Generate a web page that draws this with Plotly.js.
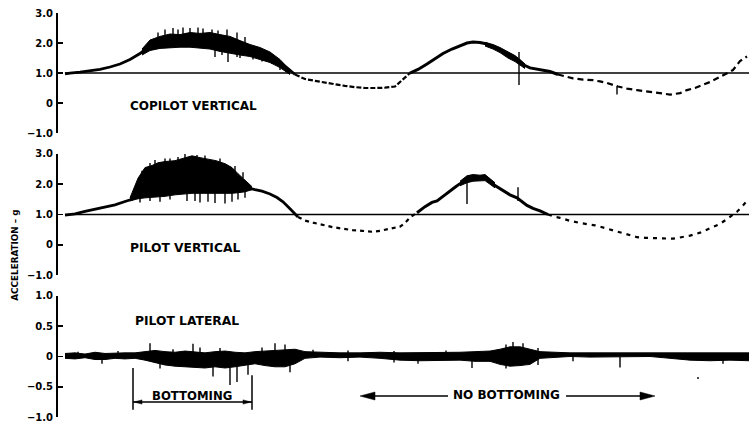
<!DOCTYPE html>
<html>
<head>
<meta charset="utf-8">
<script src="https://cdn.plot.ly/plotly-3.0.1.min.js"></script>
<style>
  html, body { margin: 0; padding: 0; background: #fff; }
  #chart { width: 749px; height: 424px; }
</style>
</head>
<body>
<div id="chart"></div>
<script>
// ---- Copilot vertical acceleration (g) ----
const cpRiseT = [0.7, 1.2, 2.2, 3.2, 4.2, 5.2, 6.2, 7.2, 8.2, 9.2, 10.2, 11.2, 12.2, 13.2, 14.2, 15.2, 16.2, 17.2, 18.2, 19.2, 20.2, 21.2, 22.2, 23.0, 23.7];
const cpRiseG = [0.97, 1.0, 1.03, 1.07, 1.12, 1.2, 1.3, 1.45, 1.65, 1.92, 2.0, 2.06, 2.1, 2.12, 2.12, 2.1, 2.05, 1.98, 1.9, 1.8, 1.68, 1.55, 1.35, 1.15, 0.95];
const cpDip1T = [23.7, 24.7, 25.7, 26.7, 27.7, 28.7, 29.7, 30.7, 31.7, 32.7, 33.7, 34.2, 34.7, 35.2];
const cpDip1G = [0.95, 0.8, 0.74, 0.68, 0.63, 0.57, 0.53, 0.5, 0.5, 0.51, 0.55, 0.7, 0.85, 1.0];
const cpHump2T = [35.2, 36.0, 36.9, 37.7, 38.5, 39.4, 40.2, 40.9, 41.5, 42.2, 42.9, 43.5, 44.2, 45.2, 45.7, 46.2, 46.7, 47.2, 47.9, 48.5, 49.2, 50.0];
const cpHump2G = [1.0, 1.12, 1.3, 1.48, 1.65, 1.8, 1.92, 2.0, 2.03, 2.02, 1.97, 1.88, 1.78, 1.6, 1.48, 1.37, 1.25, 1.17, 1.12, 1.1, 1.05, 0.95];
const cpDip2T = [50.0, 50.7, 51.5, 52.5, 53.5, 54.2, 54.9, 56.0, 56.9, 57.9, 58.7, 59.5, 60.4, 61.2, 62.2, 62.9, 63.7, 64.2, 65.2, 66.2, 66.9, 67.5, 68.2, 68.9];
const cpDip2G = [0.95, 0.88, 0.82, 0.78, 0.76, 0.72, 0.67, 0.55, 0.48, 0.43, 0.4, 0.37, 0.32, 0.28, 0.33, 0.43, 0.5, 0.57, 0.7, 0.87, 1.0, 1.1, 1.4, 1.55];
// vibration envelope during bottoming
const cpBandT  = [8.4, 9.2, 10.2, 11.2, 12.2, 13.2, 14.2, 15.2, 16.2, 17.2, 18.2, 19.2, 20.2, 21.2, 22.2, 23.2];
const cpBandHi = [1.8, 2.1, 2.22, 2.3, 2.28, 2.35, 2.32, 2.35, 2.28, 2.22, 2.08, 1.95, 1.85, 1.7, 1.45, 1.1];
const cpBandLo = [1.6, 1.75, 1.82, 1.85, 1.86, 1.86, 1.84, 1.8, 1.72, 1.65, 1.6, 1.55, 1.45, 1.35, 1.18, 0.95];
const cpBand2T  = [42.7, 43.5, 44.2, 45.0, 45.7, 46.2, 46.7];
const cpBand2Hi = [2.02, 1.95, 1.85, 1.7, 1.58, 1.45, 1.3];
const cpBand2Lo = [1.9, 1.8, 1.68, 1.5, 1.38, 1.25, 1.15];
const cpSpikeT  = [10.0, 10.7, 11.5, 12.0, 12.5, 13.2, 14.0, 14.5, 15.4, 16.0, 16.9, 17.9, 18.7,
                   15.7, 16.4, 17.0, 17.9, 18.2, 18.9, 19.5, 19.9, 20.4, 20.9, 21.4, 21.7, 22.2, 46.1, 55.9];
const cpSpikeHi = [2.35, 2.45, 2.5, 2.45, 2.52, 2.5, 2.52, 2.48, 2.45, 2.42, 2.45, 2.35, 2.2,
                   1.9, 1.9, 1.85, 1.8, 1.75, 1.75, 1.7, 1.65, 1.6, 1.55, 1.5, 1.45, 1.4, 1.7, 0.55];
const cpSpikeLo = [2.1, 2.1, 2.1, 2.1, 2.1, 2.1, 2.1, 2.1, 2.1, 2.05, 2.0, 1.95, 1.9,
                   1.53, 1.6, 1.37, 1.53, 1.5, 1.58, 1.45, 1.5, 1.38, 1.42, 1.3, 1.3, 1.1, 0.6, 0.28];

// ---- Pilot vertical acceleration (g) ----
const pvRiseT = [0.7, 1.7, 2.7, 3.7, 4.7, 5.7, 6.7, 7.4, 8.2, 9.2, 10.2, 11.2, 12.2, 13.2, 14.2, 15.2, 16.2, 17.2, 18.2, 18.9, 19.7, 20.4, 21.2, 21.9, 22.5, 23.2, 23.7, 24.0];
const pvRiseG = [0.98, 1.02, 1.1, 1.18, 1.24, 1.32, 1.43, 1.5, 1.8, 2.0, 2.1, 2.15, 2.2, 2.22, 2.2, 2.15, 2.1, 2.02, 1.95, 1.89, 1.82, 1.77, 1.68, 1.56, 1.42, 1.19, 1.02, 0.92];
const pvDip1T = [24.0, 24.7, 25.5, 26.5, 27.5, 28.5, 29.5, 30.4, 31.4, 32.2, 33.2, 34.2, 34.7, 35.2, 35.9];
const pvDip1G = [0.92, 0.8, 0.73, 0.65, 0.58, 0.53, 0.48, 0.46, 0.43, 0.46, 0.52, 0.6, 0.72, 0.9, 1.06];
const pvHump2T = [35.9, 36.7, 37.4, 37.9, 38.5, 39.2, 39.7, 40.2, 40.9, 41.5, 42.2, 42.7, 43.5, 44.2, 45.2, 45.9, 46.9, 47.5, 48.2, 49.0];
const pvHump2G = [1.06, 1.26, 1.4, 1.45, 1.6, 1.79, 1.9, 2.02, 2.15, 2.2, 2.22, 2.25, 2.0, 1.85, 1.65, 1.55, 1.3, 1.2, 1.12, 1.0];
const pvDip2T = [49.0, 49.7, 50.2, 51.2, 52.2, 52.9, 53.7, 54.2, 55.2, 56.2, 57.2, 57.9, 58.7, 59.5, 60.5, 61.5, 62.4, 63.2, 64.2, 64.9, 65.7, 66.2, 66.9, 67.5, 67.9, 68.5, 68.9];
const pvDip2G = [1.0, 0.92, 0.89, 0.79, 0.72, 0.69, 0.64, 0.6, 0.5, 0.4, 0.3, 0.25, 0.23, 0.23, 0.21, 0.2, 0.25, 0.3, 0.4, 0.5, 0.6, 0.69, 0.85, 1.0, 1.09, 1.3, 1.45];
const pvBandT  = [7.2, 8.0, 8.7, 9.4, 10.0, 10.7, 11.7, 12.5, 13.4, 14.2, 15.0, 15.8, 16.7, 17.4, 18.0, 18.7, 19.4];
const pvBandHi = [1.55, 2.2, 2.55, 2.62, 2.71, 2.75, 2.78, 2.85, 2.94, 2.88, 2.84, 2.78, 2.68, 2.55, 2.35, 2.15, 1.92];
const pvBandLo = [1.45, 1.52, 1.55, 1.56, 1.58, 1.6, 1.65, 1.68, 1.7, 1.7, 1.7, 1.68, 1.68, 1.7, 1.72, 1.75, 1.82];
const pvBand2T  = [40.2, 40.9, 41.5, 42.2, 42.7, 43.2, 43.7];
const pvBand2Hi = [2.1, 2.28, 2.32, 2.3, 2.32, 2.2, 2.05];
const pvBand2Lo = [1.95, 2.05, 2.1, 2.1, 2.12, 2.0, 1.88];
const pvSpikeT  = [8.4, 9.2, 9.7, 10.7, 11.2, 12.0, 12.7, 13.9, 14.7, 16.2, 17.7, 18.5,
                   8.2, 9.2, 10.2, 11.2, 12.9, 13.7, 14.2, 15.0, 15.7, 16.7, 17.4, 18.0, 18.7, 40.9, 46.0];
const pvSpikeHi = [2.45, 2.7, 2.8, 2.85, 2.85, 2.9, 3.0, 2.97, 2.95, 2.85, 2.6, 2.4,
                   1.7, 1.7, 1.7, 1.75, 1.8, 1.8, 1.8, 1.8, 1.8, 1.8, 1.8, 1.82, 1.85, 2.15, 1.9];
const pvSpikeLo = [2.1, 2.4, 2.5, 2.6, 2.6, 2.7, 2.7, 2.7, 2.7, 2.6, 2.4, 2.2,
                   1.4, 1.45, 1.42, 1.5, 1.45, 1.45, 1.4, 1.42, 1.38, 1.36, 1.42, 1.5, 1.55, 1.35, 1.45];

// ---- Pilot lateral acceleration (g) ----
const plT  = [0.7, 1.7, 2.7, 3.7, 4.7, 5.7, 6.7, 7.7, 8.7, 9.7, 10.7, 11.7, 12.7, 13.7, 14.7, 15.7, 16.7, 17.7, 18.7, 19.7, 20.7, 21.7, 22.7, 23.7, 24.7, 26.2, 28.2, 30.2, 32.2, 34.2, 36.2, 38.2, 40.2, 41.7, 43.2, 44.2, 45.2, 46.2, 47.2, 48.2, 49.7, 51.2, 53.2, 55.2, 57.2, 59.2, 61.2, 63.2, 65.2, 67.2, 69.1];
const plHi = [0.05, 0.06, 0.04, 0.07, 0.05, 0.06, 0.06, 0.06, 0.08, 0.1, 0.08, 0.07, 0.09, 0.08, 0.06, 0.08, 0.09, 0.07, 0.06, 0.08, 0.09, 0.1, 0.12, 0.12, 0.08, 0.07, 0.06, 0.06, 0.07, 0.06, 0.06, 0.06, 0.07, 0.08, 0.09, 0.12, 0.16, 0.16, 0.12, 0.08, 0.07, 0.06, 0.06, 0.06, 0.05, 0.06, 0.05, 0.06, 0.05, 0.06, 0.06];
const plLo = [-0.03, -0.04, -0.02, -0.05, -0.05, -0.03, -0.04, -0.03, -0.06, -0.1, -0.14, -0.16, -0.17, -0.19, -0.19, -0.17, -0.19, -0.17, -0.14, -0.12, -0.15, -0.17, -0.17, -0.12, -0.03, -0.01, -0.02, -0.01, -0.03, -0.06, -0.07, -0.07, -0.06, -0.08, -0.08, -0.13, -0.16, -0.15, -0.13, -0.03, -0.01, 0.0, -0.01, -0.01, 0.0, 0.0, -0.03, -0.06, -0.07, -0.06, -0.07];
const plSpikeT  = [2.0, 4.4, 6.0, 9.2, 10.2, 11.5, 13.5, 14.2, 15.5, 16.2, 17.2, 17.9, 19.0, 20.4, 21.7, 22.7, 23.2, 25.5, 29.0, 33.6, 36.0, 38.8, 41.4, 44.8, 45.5, 46.5, 48.0, 51.5, 56.2, 64.0, 66.5];
const plSpikeHi = [0.08, 0.03, 0.09, 0.22, 0.0, 0.12, 0.21, 0.15, 0.0, 0.14, 0.0, 0.0, 0.0, 0.15, 0.22, 0.2, 0.0, 0.11, 0.1, 0.09, 0.0, 0.1, 0.0, 0.2, 0.24, 0.22, 0.14, 0.0, 0.0, -0.34, 0.0];
const plSpikeLo = [0.0, -0.12, 0.0, 0.0, -0.2, 0.0, 0.0, 0.0, -0.33, 0.0, -0.47, -0.42, -0.3, 0.0, 0.0, 0.0, -0.26, 0.0, -0.08, -0.1, -0.12, 0.0, -0.19, -0.2, 0.0, 0.0, -0.14, -0.08, -0.18, -0.37, -0.12];

// Tick labels
const vertTicks = [-1, 0, 1, 2, 3];
const vertTickText = ['\u22121.0', '0', '1.0', '2.0', '3.0'];
const latTicks = [-1, -0.5, 0, 0.5, 1];
const latTickText = ['\u22121.0', '\u22120.5', '0', '0.5', '1.0'];

// Time spans of the run phases (same time units as the traces)
const bottomingSpan = [7.5, 19.4];
const noBottomingSpan = [30.2, 59.7];

const INK = '#000';
const FONT = 'DejaVu Sans, Verdana, sans-serif';

function trace(t, g, yaxis, width, dash) {
  return { type: 'scatter', mode: 'lines', x: t, y: g, yaxis: yaxis,
           line: { color: INK, width: width, dash: dash || 'solid' },
           hoverinfo: 'skip', showlegend: false };
}
function band(t, hi, lo, yaxis) {
  return [
    { type: 'scatter', mode: 'lines', x: t, y: lo, yaxis: yaxis,
      line: { color: INK, width: 1 }, hoverinfo: 'skip', showlegend: false },
    { type: 'scatter', mode: 'lines', x: t, y: hi, yaxis: yaxis, fill: 'tonexty',
      fillcolor: INK, line: { color: INK, width: 1 }, hoverinfo: 'skip', showlegend: false }
  ];
}
function spikes(t, hi, lo, yaxis) {
  const xs = [], ys = [];
  t.forEach((v, i) => { xs.push(v, v, null); ys.push(hi[i], lo[i], null); });
  return { type: 'scatter', mode: 'lines', x: xs, y: ys, yaxis: yaxis,
           line: { color: INK, width: 1.4 }, hoverinfo: 'skip', showlegend: false };
}

const data = [
  trace(cpRiseT, cpRiseG, 'y', 2.8),
  trace(cpDip1T, cpDip1G, 'y', 2.2, '5px,2px'),
  trace(cpHump2T, cpHump2G, 'y', 3),
  trace(cpDip2T, cpDip2G, 'y', 2.2, '6px,4px'),
  ...band(cpBandT, cpBandHi, cpBandLo, 'y'),
  ...band(cpBand2T, cpBand2Hi, cpBand2Lo, 'y'),
  spikes(cpSpikeT, cpSpikeHi, cpSpikeLo, 'y'),

  trace(pvRiseT, pvRiseG, 'y2', 2.8),
  trace(pvDip1T, pvDip1G, 'y2', 2.2, '4px,4px'),
  trace(pvHump2T, pvHump2G, 'y2', 3),
  trace(pvDip2T, pvDip2G, 'y2', 2.2, '4px,5px'),
  ...band(pvBandT, pvBandHi, pvBandLo, 'y2'),
  ...band(pvBand2T, pvBand2Hi, pvBand2Lo, 'y2'),
  spikes(pvSpikeT, pvSpikeHi, pvSpikeLo, 'y2'),

  ...band(plT, plHi, plLo, 'y3'),
  spikes(plSpikeT, plSpikeHi, plSpikeLo, 'y3')
];

function yAxis(domain, range, vals, text) {
  return {
    domain: domain, range: range, anchor: 'x',
    showline: true, linecolor: INK, linewidth: 2,
    ticks: 'inside', ticklen: 5, tickwidth: 1.5, tickcolor: INK,
    tickvals: vals, ticktext: text, ticklabelstandoff: 1,
    tickfont: { family: FONT, size: 10, color: INK, weight: 'bold' },
    showgrid: false, zeroline: false, fixedrange: true
  };
}

function label(text, x, y, yref, size) {
  return { text: text, x: x, y: y, xref: 'x', yref: yref, showarrow: false,
           font: { family: FONT, size: size, color: INK, weight: 'bold' },
           xanchor: 'center', yanchor: 'middle' };
}
function seg(x0, y0, x1, y1, yref, w) {
  return { type: 'line', xref: 'x', yref: yref, x0: x0, y0: y0, x1: x1, y1: y1,
           line: { color: INK, width: w || 1.5 } };
}
function head(tipX, y, len, half, dir, yref) {
  const bx = tipX + dir * len;
  return { type: 'path', xref: 'x', yref: yref,
           path: `M${tipX},${y} L${bx},${y + half} L${bx},${y - half} Z`,
           fillcolor: INK, line: { color: INK, width: 0.5 } };
}

const arrowY = -0.752, noArrowY = -0.653;
const shapes = [
  seg(0.7, 1, 69.1, 1, 'y', 1.6),
  seg(0.7, 1, 69.1, 1, 'y2', 1.6),
  // bottoming bracket
  seg(bottomingSpan[0], -0.19, bottomingSpan[0], -0.88, 'y3', 1.5),
  seg(bottomingSpan[1], -0.31, bottomingSpan[1], -0.88, 'y3', 1.5),
  seg(bottomingSpan[0], arrowY, bottomingSpan[1], arrowY, 'y3', 1.5),
  head(bottomingSpan[0] + 0.1, arrowY, 0.8, 0.035, 1, 'y3'),
  head(bottomingSpan[1] - 0.1, arrowY, 0.8, 0.035, -1, 'y3'),
  // no-bottoming arrows
  seg(noBottomingSpan[0] + 1, noArrowY, 39.0, noArrowY, 'y3', 1.6),
  seg(50.8, noArrowY, noBottomingSpan[1] - 1, noArrowY, 'y3', 1.6),
  head(noBottomingSpan[0], noArrowY, 1.5, 0.066, 1, 'y3'),
  head(noBottomingSpan[1], noArrowY, 1.5, 0.066, -1, 'y3')
];

const annotations = [
  label('COPILOT VERTICAL', 13.5, -0.1, 'y', 12),
  label('PILOT VERTICAL', 12.7, -0.12, 'y2', 12.3),
  label('PILOT LATERAL', 12.9, 0.59, 'y3', 12.3),
  label('BOTTOMING', 13.4, -0.645, 'y3', 11.7),
  label('NO BOTTOMING', 44.8, -0.64, 'y3', 12),
  { text: 'ACCELERATION \u2013 g', xref: 'paper', yref: 'paper',
    x: -0.0622, y: 0.397, textangle: -90, showarrow: false,
    font: { family: FONT, size: 8.8, color: INK, weight: 'bold' },
    xanchor: 'center', yanchor: 'middle' }
];

const layout = {
  width: 749, height: 424,
  margin: { l: 58, r: 0, t: 0, b: 0 },
  paper_bgcolor: '#fff', plot_bgcolor: '#fff',
  showlegend: false,
  xaxis: { range: [0, 69.1], visible: false, fixedrange: true },
  yaxis: yAxis([0.6863, 0.9693], [-1, 3], vertTicks, vertTickText),
  yaxis2: yAxis([0.3514, 0.6368], [-1, 3], vertTicks, vertTickText),
  yaxis3: yAxis([0.0165, 0.3019], [-1, 1], latTicks, latTickText),
  shapes: shapes,
  annotations: annotations
};

Plotly.newPlot('chart', data, layout, { staticPlot: true, displayModeBar: false });
</script>
</body>
</html>
